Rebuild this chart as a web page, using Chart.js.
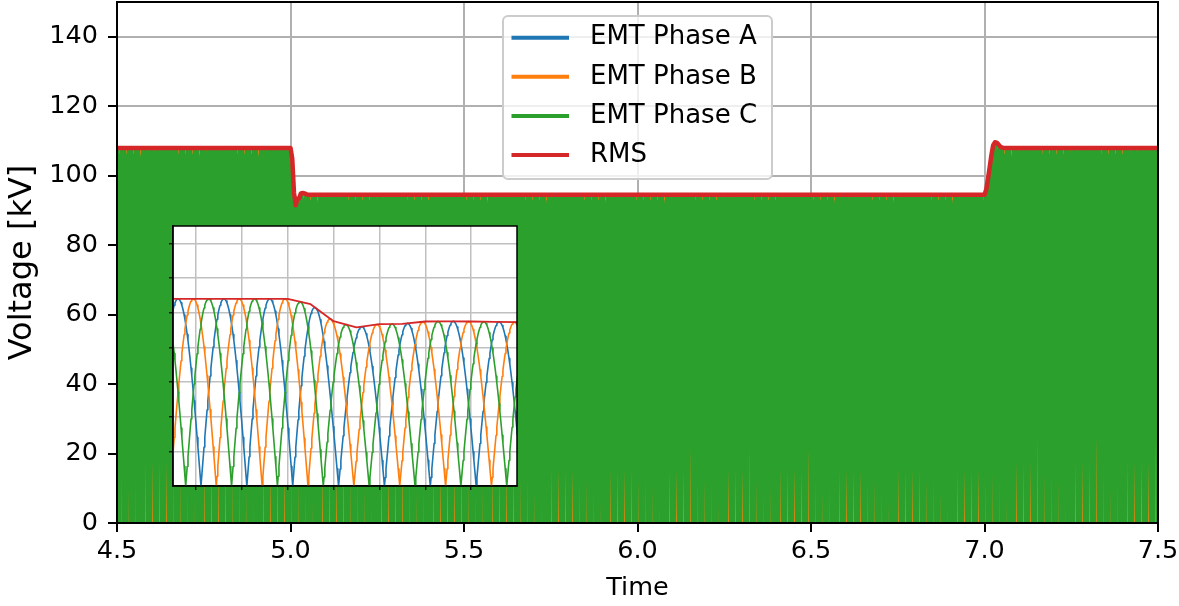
<!DOCTYPE html>
<html>
<head>
<meta charset="utf-8">
<script src="https://cdn.jsdelivr.net/npm/chart.js"></script>
<style>
  html, body { margin: 0; padding: 0; background: #fff; }
  #wrap { position: relative; width: 1179px; height: 606px; }
  #main { position: absolute; left: 0; top: 0; }
  #inset { position: absolute; left: 163px; top: 216px; }
</style>
</head>
<body>
<div id="wrap">
  <canvas id="main" width="1179" height="606"></canvas>
  <canvas id="inset" width="364" height="280"></canvas>
</div>
<script>
// RMS curve (time in s, voltage in kV)
const rmsTime = [4.5, 5.0, 5.005, 5.01, 5.015, 5.02, 5.025, 5.03, 5.035, 5.04, 5.045, 5.05,
                 7.0, 7.005, 7.01, 7.015, 7.02, 7.025, 7.03, 7.035, 7.04, 7.045, 7.05, 7.055, 7.5];
const rmsKV   = [108, 108, 104.9, 95.1, 91.5, 93.4, 93.5, 94.9, 95.0, 94.9, 94.7, 94.5,
                 94.5, 96, 99, 102.5, 106, 108.8, 109.6, 109.5, 109, 108.4, 108.1, 108, 108];

// EMT phases: rectified 50 Hz waves whose peaks follow the RMS curve
const freqHz = 50;
const phaseNames = ['EMT Phase A', 'EMT Phase B', 'EMT Phase C'];
const phaseAngleDeg = [-19.8, -79.8, -139.8];
const phaseColors = ['#1f77b4', '#ff7f0e', '#2ca02c'];
const rmsColor = '#d62728';

const xTicks = [4.5, 5.0, 5.5, 6.0, 6.5, 7.0, 7.5];
const yTicks = [0, 20, 40, 60, 80, 100, 120, 140];
const insetXTicks = [4.98, 4.99, 5.0, 5.01, 5.02, 5.03, 5.04];
const insetYTicks = [20, 40, 60, 80, 100, 120, 140];

const FONT = 'DejaVu Sans';

function envelope(t) {
  if (t <= rmsTime[0]) return rmsKV[0];
  for (let i = 1; i < rmsTime.length; i++) {
    if (t <= rmsTime[i]) {
      const f = (t - rmsTime[i - 1]) / (rmsTime[i] - rmsTime[i - 1]);
      return rmsKV[i - 1] + f * (rmsKV[i] - rmsKV[i - 1]);
    }
  }
  return rmsKV[rmsKV.length - 1];
}

// one rectified half-wave ("hump") after another, sampled from zero to zero
function phaseWave(k, t0, t1, perHump) {
  const w = 2 * Math.PI * freqHz;
  const phi = phaseAngleDeg[k] * Math.PI / 180;
  const halfT = Math.PI / w;
  const pts = [];
  const nFirst = Math.floor((w * t0 + phi) / Math.PI);
  const nLast = Math.ceil((w * t1 + phi) / Math.PI);
  for (let n = nFirst; n < nLast; n++) {
    const tz = (n * Math.PI - phi) / w;
    for (let j = 0; j < perHump; j++) {
      const t = tz + j * halfT / perHump;
      pts.push({ x: t, y: Math.abs(envelope(t) * Math.sin(w * t + phi)) });
    }
  }
  pts.push({ x: (nLast * Math.PI - phi) / w, y: 0 });
  return pts;
}

const rmsPoints = rmsTime.map((t, i) => ({ x: t, y: rmsKV[i] }));

function makeDatasets(t0, t1, perHump, phaseWidth, rmsWidth) {
  const sets = phaseNames.map((name, k) => ({
    label: name,
    data: phaseWave(k, t0, t1, perHump),
    borderColor: phaseColors[k],
    backgroundColor: phaseColors[k],
    borderWidth: phaseWidth,
    borderJoinStyle: 'round',
    pointRadius: 0,
    order: 4 - k
  }));
  sets.push({
    label: 'RMS',
    data: rmsPoints,
    borderColor: rmsColor,
    backgroundColor: rmsColor,
    borderWidth: rmsWidth,
    borderJoinStyle: 'round',
    pointRadius: 0,
    order: 1
  });
  return sets;
}

// black frame around the plot area (matplotlib spines)
const frame = {
  id: 'frame',
  afterDatasetsDraw(chart, args, opts) {
    const a = chart.chartArea, ctx = chart.ctx;
    ctx.save();
    ctx.strokeStyle = '#000';
    ctx.lineWidth = opts.width || 2;
    ctx.strokeRect(a.left, a.top, a.right - a.left, a.bottom - a.top);
    ctx.restore();
  }
};

const whiteArea = {
  id: 'whiteArea',
  beforeDraw(chart) {
    const a = chart.chartArea, ctx = chart.ctx;
    ctx.save();
    ctx.fillStyle = '#fff';
    ctx.fillRect(a.left, a.top, a.right - a.left, a.bottom - a.top);
    ctx.restore();
  }
};

// legend box in the upper centre, like matplotlib's
const boxLegend = {
  id: 'boxLegend',
  afterDraw(chart) {
    const a = chart.chartArea, ctx = chart.ctx;
    const w = 269, h = 163;
    const x = (a.left + a.right) / 2 - w / 2, y = a.top + 14;
    ctx.save();
    ctx.beginPath();
    ctx.roundRect(x, y, w, h, 5);
    ctx.fillStyle = 'rgba(255,255,255,0.8)';
    ctx.fill();
    ctx.strokeStyle = '#cccccc';
    ctx.lineWidth = 2;
    ctx.stroke();
    ctx.font = '26px "' + FONT + '"';
    ctx.textBaseline = 'middle';
    ctx.fillStyle = '#000';
    chart.data.datasets.forEach((ds, i) => {
      const ry = y + 21.7 + i * 39.1;
      ctx.strokeStyle = ds.borderColor;
      ctx.lineWidth = 4;
      ctx.beginPath();
      ctx.moveTo(x + 8.5, ry);
      ctx.lineTo(x + 66, ry);
      ctx.stroke();
      ctx.fillText(ds.label, x + 87, ry);
    });
    ctx.restore();
  }
};

const mainChart = new Chart(document.getElementById('main'), {
  type: 'line',
  data: { datasets: makeDatasets(4.5, 7.5, 16, 3.2, 4.5) },
  options: {
    responsive: false,
    animation: false,
    parsing: false,
    normalized: true,
    events: [],
    layout: { padding: { left: 0, right: 21, top: 2, bottom: 0 } },
    plugins: { legend: { display: false }, tooltip: { enabled: false }, frame: { width: 2 } },
    scales: {
      x: {
        type: 'linear', min: 4.5, max: 7.5,
        afterBuildTicks: s => { s.ticks = xTicks.map(v => ({ value: v })); },
        afterFit: s => { s.height = 83; s.paddingLeft = 0; s.paddingRight = 0; },
        ticks: { callback: v => v.toFixed(1), color: '#000', font: { family: FONT, size: 25.5 }, padding: 4, maxRotation: 0, autoSkip: false },
        grid: { color: '#b0b0b0', lineWidth: 2, tickColor: '#000', tickLength: 9, tickWidth: 2 },
        border: { color: '#000', width: 2 },
        title: { display: true, text: 'Time', color: '#000', font: { family: FONT, size: 25.5 }, padding: { top: 0, bottom: 2 } }
      },
      y: {
        type: 'linear', min: 0, max: 150,
        afterBuildTicks: s => { s.ticks = yTicks.map(v => ({ value: v })); },
        afterFit: s => { s.width = 117; s.paddingTop = 0; s.paddingBottom = 0; },
        ticks: { color: '#000', font: { family: FONT, size: 25.5 }, padding: 10 },
        grid: { color: '#b0b0b0', lineWidth: 2, tickColor: '#000', tickLength: 9, tickWidth: 2 },
        border: { color: '#000', width: 2 },
        title: { display: true, text: 'Voltage [kV]', color: '#000', font: { family: FONT, size: 32 }, padding: { top: 3, bottom: 0 } }
      }
    }
  },
  plugins: [frame, boxLegend]
});

const insetChart = new Chart(document.getElementById('inset'), {
  type: 'line',
  data: { datasets: makeDatasets(4.97, 5.055, 60, 1.6, 1.8) },
  options: {
    responsive: false,
    animation: false,
    parsing: false,
    events: [],
    layout: { padding: { left: 0, right: 10, top: 10, bottom: 0 } },
    plugins: { legend: { display: false }, tooltip: { enabled: false }, frame: { width: 1.5 } },
    scales: {
      x: {
        type: 'linear', min: 4.975, max: 5.05,
        afterBuildTicks: s => { s.ticks = insetXTicks.map(v => ({ value: v })); },
        afterFit: s => { s.height = 10; s.paddingLeft = 0; s.paddingRight = 0; },
        ticks: { display: false },
        grid: { color: '#c0c0c0', lineWidth: 1.5, tickColor: '#000', tickLength: 4, tickWidth: 1.2 },
        border: { color: '#000', width: 1.5 }
      },
      y: {
        type: 'linear', min: 0, max: 150,
        afterBuildTicks: s => { s.ticks = insetYTicks.map(v => ({ value: v })); },
        afterFit: s => { s.width = 10; s.paddingTop = 0; s.paddingBottom = 0; },
        ticks: { display: false },
        grid: { color: '#c0c0c0', lineWidth: 1.5, tickColor: '#000', tickLength: 4, tickWidth: 1.2 },
        border: { color: '#000', width: 1.5 }
      }
    }
  },
  plugins: [whiteArea, frame]
});
</script>
</body>
</html>
